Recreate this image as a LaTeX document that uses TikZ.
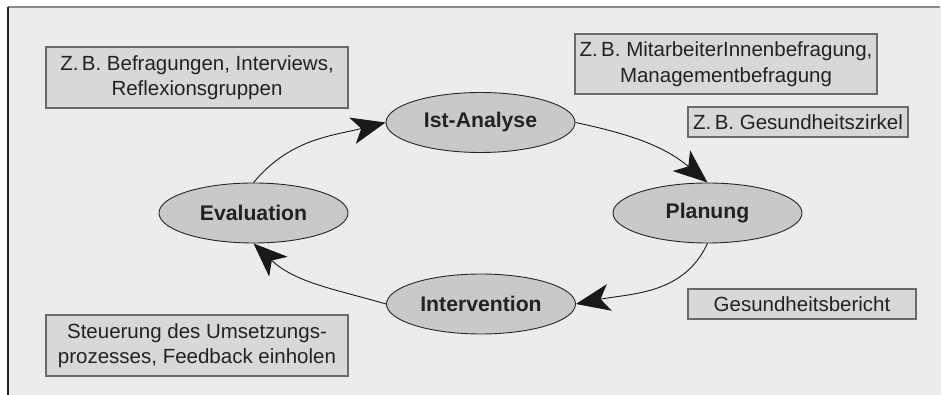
\documentclass[tikz,border=0pt]{standalone}
\usepackage{fontspec}
\setmainfont{Liberation Sans}
\usetikzlibrary{arrows.meta,shapes.geometric}
\definecolor{bgc}{HTML}{ECECEE}
\definecolor{boxfill}{HTML}{D8D8DA}
\definecolor{boxline}{HTML}{6A6A6A}
\definecolor{ellfill}{HTML}{C9C9CB}
\definecolor{txt}{HTML}{222222}
\definecolor{topline}{HTML}{8A8A8A}
\tikzset{
  phase/.style={ellipse, draw=black!85, line width=0.9pt, fill=ellfill, inner sep=0pt,
    minimum width=189pt, minimum height=60pt, text=txt,
    font=\fontsize{21.2}{25}\selectfont\bfseries},
  infobox/.style={rectangle, draw=boxline, line width=1.4pt, fill=boxfill, inner sep=0pt,
    text=txt, align=center, font=\fontsize{20.5}{25.5}\selectfont},
  cyc/.style={draw=black!90, line width=0.9pt,
    -{Stealth[length=34pt, width=27pt, inset=9pt]}}
}
\begin{document}
\begin{tikzpicture}[x=1pt,y=1pt]
\useasboundingbox (0,0) rectangle (942,395);
\fill[bgc] (8,0) rectangle (941,388);
\draw[topline, line width=1.6pt] (8,388) -- (940,388);
\draw[black!85, line width=1.4pt] (8,388) -- (8,0);

\node[phase] (ist)   at (480.5,272.5) {Ist-Analyse};
\node[phase] (eval)  at (253.5,182) {Evaluation};
\node[phase] (plan)  at (707.5,182) {Planung};
\node[phase] (inter) at (481,91) {Intervention};

\node[infobox, minimum width=302pt, minimum height=61pt] (b1) at (197,317.5)
  {Z.\,B. Befragungen, Interviews,\\Reflexionsgruppen};
\node[infobox, minimum width=302pt, minimum height=60pt] (b2) at (726,331)
  {Z.\,B. MitarbeiterInnenbefragung,\\Managementbefragung};
\node[infobox, minimum width=220pt, minimum height=30pt] (b3) at (798,273)
  {Z.\,B. Gesundheitszirkel};
\node[infobox, minimum width=228pt, minimum height=30pt] (b4) at (802,91)
  {Gesundheitsbericht};
\node[infobox, minimum width=302pt, minimum height=61pt] (b5) at (197,49.5)
  {Steuerung des Umsetzungs-\\prozesses, Feedback einholen};

\draw[cyc] (eval.north) to[out=50, in=194] (ist.west);
\draw[cyc] (ist.east) to[out=-12, in=140] (plan.north);
\draw[cyc] (plan.south) to[out=-115, in=11] (inter.east);
\draw[cyc] (inter.west) to[out=164, in=-43] (eval.south);
\end{tikzpicture}
\end{document}
